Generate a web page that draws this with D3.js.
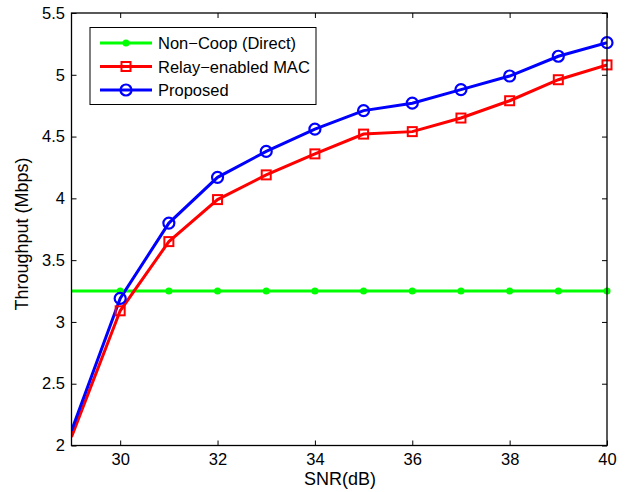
<!DOCTYPE html>
<html>
<head>
<meta charset="utf-8">
<script src="https://cdn.jsdelivr.net/npm/d3@7"></script>
<style>
  body { margin: 0; background: #fff; }
  text { font-family: "Liberation Sans", Arial, sans-serif; fill: #000; }
</style>
</head>
<body>
<div id="chart"></div>
<script>
// SNR values; the curves start at the left edge of the axes (no marker drawn there)
const snr = [29, 30, 31, 32, 33, 34, 35, 36, 37, 38, 39, 40];
const nonCoop = [3.25, 3.25, 3.25, 3.25, 3.25, 3.25, 3.25, 3.25, 3.25, 3.25, 3.25, 3.25];
const relayMac = [2.07, 3.09, 3.65, 3.99, 4.19, 4.36, 4.52, 4.54, 4.65, 4.79, 4.96, 5.08];
const proposed = [2.12, 3.19, 3.80, 4.17, 4.38, 4.56, 4.71, 4.77, 4.88, 4.99, 5.15, 5.26];
const xTicks = [30, 32, 34, 36, 38, 40];
const yTicks = [2, 2.5, 3, 3.5, 4, 4.5, 5, 5.5];
const seriesNames = ["Non\u2212Coop (Direct)", "Relay\u2212enabled MAC", "Proposed"];

const W = 633, H = 492;
const m = {left: 71.5, right: 26, top: 13, bottom: 46.5};

const svg = d3.select("#chart").append("svg")
    .attr("width", W)
    .attr("height", H);

const x = d3.scaleLinear().domain([29, 40]).range([m.left, W - m.right]);
const y = d3.scaleLinear().domain([2, 5.5]).range([H - m.bottom, m.top]);

svg.append("clipPath").attr("id", "clip")
  .append("rect")
    .attr("x", x(29)).attr("y", y(5.5))
    .attr("width", x(40) - x(29)).attr("height", y(2) - y(5.5));

const series = [
    {name: seriesNames[0], vals: nonCoop, color: "#00ff00", marker: "dot"},
    {name: seriesNames[1], vals: relayMac, color: "#ff0000", marker: "square"},
    {name: seriesNames[2], vals: proposed, color: "#0000ff", marker: "circle"}
];

const line = d3.line()
    .x(d => x(d[0]))
    .y(d => y(d[1]));

const drawMarker = (g, type, cx, cy, color) => {
    if (type == "dot") {
        g.append("circle").attr("cx", cx).attr("cy", cy).attr("r", 3.5)
            .attr("fill", color);
    } else if (type == "square") {
        g.append("rect").attr("x", cx - 4.5).attr("y", cy - 4.5)
            .attr("width", 9).attr("height", 9)
            .attr("fill", "none").attr("stroke", color).attr("stroke-width", 2);
    } else {
        g.append("circle").attr("cx", cx).attr("cy", cy).attr("r", 5.5)
            .attr("fill", "none").attr("stroke", color).attr("stroke-width", 2.2);
    }
}

const plot = svg.append("g").attr("clip-path", "url(#clip)");

series.forEach(s => {
    const pts = snr.map((v, i) => [v, s.vals[i]]);
    plot.append("path")
        .datum(pts)
        .attr("d", line)
        .attr("fill", "none")
        .attr("stroke", s.color)
        .attr("stroke-width", 3);
    pts.filter(p => p[0] > 29)
        .forEach(p => drawMarker(svg, s.marker, x(p[0]), y(p[1]), s.color));
});

// axes box, ticks pointing inward
const tickLen = 5;
const axisStyle = g => {
    g.select(".domain").remove();
    g.selectAll("line").attr("stroke", "#000").attr("stroke-width", 1);
    g.selectAll("text").style("font-size", "16.5px");
};

svg.append("g")
    .attr("transform", `translate(0,${y(2)})`)
    .call(d3.axisBottom(x).tickValues(xTicks).tickSizeInner(-tickLen).tickPadding(7.5).tickFormat(d3.format("d")))
    .call(axisStyle);
svg.append("g")
    .attr("transform", `translate(0,${y(5.5)})`)
    .call(d3.axisTop(x).tickValues(xTicks).tickSizeInner(-tickLen).tickFormat(""))
    .call(axisStyle);
svg.append("g")
    .attr("transform", `translate(${x(29)},0)`)
    .call(d3.axisLeft(y).tickValues(yTicks).tickSizeInner(-tickLen).tickPadding(6.5).tickFormat(d3.format("")))
    .call(axisStyle);
svg.append("g")
    .attr("transform", `translate(${x(40)},0)`)
    .call(d3.axisRight(y).tickValues(yTicks).tickSizeInner(-tickLen).tickFormat(""))
    .call(axisStyle);

svg.append("rect")
    .attr("x", x(29)).attr("y", y(5.5))
    .attr("width", x(40) - x(29)).attr("height", y(2) - y(5.5))
    .attr("fill", "none").attr("stroke", "#000").attr("stroke-width", 1.3);

// axis labels
svg.append("text")
    .attr("x", 340)
    .attr("y", 484.5)
    .attr("text-anchor", "middle")
    .style("font-size", "18px")
    .text("SNR(dB)");

svg.append("text")
    .attr("transform", `translate(28,234) rotate(-90)`)
    .attr("text-anchor", "middle")
    .style("font-size", "18px")
    .text("Throughput (Mbps)");

// legend
const legend = svg.append("g");
legend.append("rect")
    .attr("x", 90).attr("y", 27.5)
    .attr("width", 226).attr("height", 77)
    .attr("fill", "#fff").attr("stroke", "#000").attr("stroke-width", 1);

series.forEach((s, i) => {
    const ly = 43 + i * 23.5;
    legend.append("line")
        .attr("x1", 100).attr("x2", 152)
        .attr("y1", ly).attr("y2", ly)
        .attr("stroke", s.color).attr("stroke-width", 3);
    drawMarker(legend, s.marker, 126, ly, s.color);
    legend.append("text")
        .attr("x", 158).attr("y", ly + 6)
        .style("font-size", "16.5px")
        .text(s.name);
});
</script>
</body>
</html>
